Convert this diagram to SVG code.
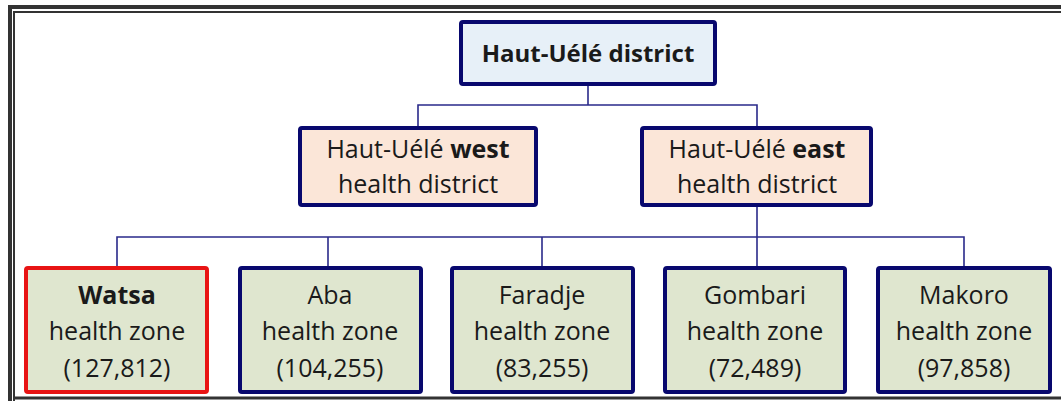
<svg xmlns="http://www.w3.org/2000/svg" width="1061" height="401" viewBox="0 0 1061 401">
<style>
.box{stroke:#08086e;stroke-width:4;}
.top{fill:#e7f0f8;}
.mid{fill:#fbe6d8;}
.zone{fill:#dfe6cf;}
.red{stroke:#e81414;}
.t{font-family:"Open Sans","Noto Sans",sans-serif;font-size:25px;fill:#1a1a1a;text-anchor:middle;}
.h{font-size:24px;}
.b{font-weight:bold;}
.conn{stroke:#2a2a8a;stroke-width:1.6;fill:none;}
</style>
<rect width="1061" height="401" fill="#ffffff"/>
<g id="frame" fill="none" stroke="#333333">
  <path d="M10,401 V7 H1061" stroke-width="4"/>
  <path d="M14,401 V12 H1061" stroke-width="2"/>
  <path d="M14,398 H1061" stroke-width="3"/>
</g>
<g id="connectors" class="conn">
  <path d="M588,86 V105"/>
  <path d="M418,126 V105 H757 V126"/>
  <path d="M757,207 V266"/>
  <path d="M117,266 V237 H964 V266"/>
  <path d="M328,237 V266"/>
  <path d="M542,237 V266"/>
</g>
<g id="district">
  <rect class="box top" x="461" y="22" width="254" height="62" rx="2"/>
  <text class="t b h" x="588" y="62">Haut-Uélé district</text>
</g>
<g id="west">
  <rect class="box mid" x="300" y="128" width="236" height="77" rx="2"/>
  <text class="t" x="418" y="158">Haut-Uélé <tspan class="b">west</tspan></text>
  <text class="t" x="418" y="193">health district</text>
</g>
<g id="east">
  <rect class="box mid" x="642" y="128" width="229" height="77" rx="2"/>
  <text class="t" x="757" y="158">Haut-Uélé <tspan class="b">east</tspan></text>
  <text class="t" x="757" y="193">health district</text>
</g>
<g id="watsa">
  <rect class="box zone red" x="26" y="268" width="181" height="124" rx="2"/>
  <text class="t b" x="117" y="304">Watsa</text>
  <text class="t" x="117" y="340">health zone</text>
  <text class="t" x="117" y="377">(127,812)</text>
</g>
<g id="aba">
  <rect class="box zone" x="240" y="268" width="181" height="124" rx="2"/>
  <text class="t" x="330" y="304">Aba</text>
  <text class="t" x="330" y="340">health zone</text>
  <text class="t" x="330" y="377">(104,255)</text>
</g>
<g id="faradje">
  <rect class="box zone" x="452" y="268" width="181" height="124" rx="2"/>
  <text class="t" x="542" y="304">Faradje</text>
  <text class="t" x="542" y="340">health zone</text>
  <text class="t" x="542" y="377">(83,255)</text>
</g>
<g id="gombari">
  <rect class="box zone" x="665" y="268" width="180" height="124" rx="2"/>
  <text class="t" x="755" y="304">Gombari</text>
  <text class="t" x="755" y="340">health zone</text>
  <text class="t" x="755" y="377">(72,489)</text>
</g>
<g id="makoro">
  <rect class="box zone" x="878" y="268" width="172" height="124" rx="2"/>
  <text class="t" x="964" y="304">Makoro</text>
  <text class="t" x="964" y="340">health zone</text>
  <text class="t" x="964" y="377">(97,858)</text>
</g>
</svg>
